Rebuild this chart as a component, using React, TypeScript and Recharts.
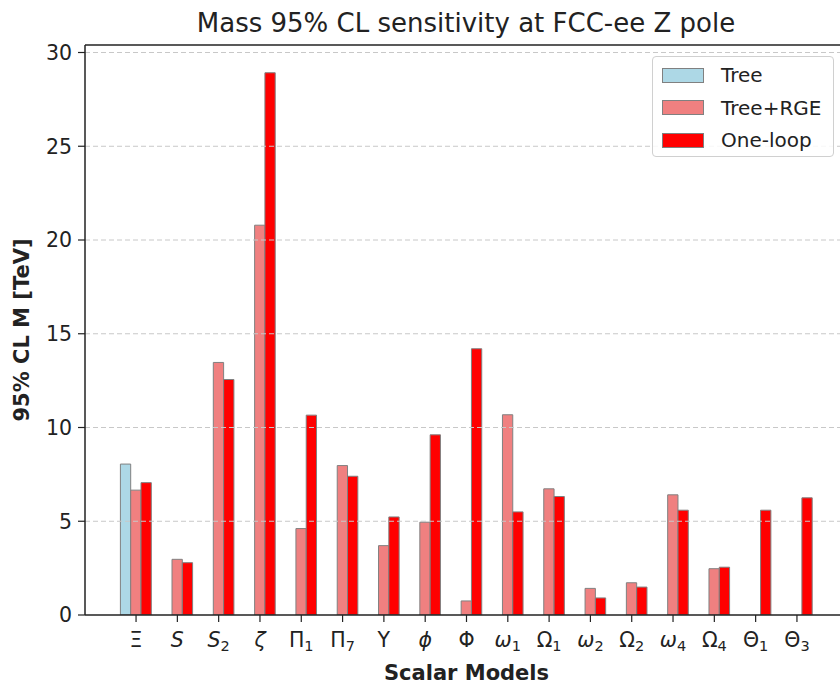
import React from 'react';
import { BarChart, Bar, XAxis, YAxis, ReferenceLine, Legend, Label } from 'recharts';

const models = ['Ξ', 'S', 'S_2', 'ζ', 'Π_1', 'Π_7', 'Υ', 'ϕ', 'Φ', 'ω_1', 'Ω_1', 'ω_2', 'Ω_2', 'ω_4', 'Ω_4', 'Θ_1', 'Θ_3'];
const seriesNames = ['Tree', 'Tree+RGE', 'One-loop'];
const tree = [8.05, 0, 0, 0, 0, 0, 0, 0, 0, 0, 0, 0, 0, 0, 0, 0, 0];
const treeRge = [6.66, 2.97, 13.47, 20.79, 4.61, 7.97, 3.7, 4.95, 0.75, 10.68, 6.73, 1.42, 1.72, 6.41, 2.47, 0, 0];
const oneLoop = [7.06, 2.79, 12.56, 28.92, 10.66, 7.4, 5.23, 9.61, 14.2, 5.5, 6.32, 0.91, 1.49, 5.59, 2.55, 5.59, 6.25];
const yTicks = [0, 5, 10, 15, 20, 25, 30];
const yMax = 30.4;

const data = models.map((m, i) => ({ model: m, tree: tree[i], treeRge: treeRge[i], oneLoop: oneLoop[i] }));

const FONT = '"DejaVu Sans", sans-serif';
const EDGE = '#808080';

// uppercase greek is upright in mathtext, latin + lowercase greek italic
const isUpright = (ch: string) => {
  const c = ch.charCodeAt(0);
  return c >= 0x391 && c <= 0x3a9;
};

const ModelTick = (props: any) => {
  const { x, y, payload } = props;
  const [sym, sub] = String(payload.value).split('_');
  return (
    <text x={x} y={y + 24.5} textAnchor="middle" fontFamily={FONT} fontSize={20.5} fill="#222">
      <tspan fontStyle={isUpright(sym) ? 'normal' : 'italic'}>{sym}</tspan>
      {sub && (
        <tspan fontSize={14.5} dy={4}>{sub}</tspan>
      )}
    </text>
  );
};

const LegendBox = ({ payload }: any) => {
  const items = [...(payload || [])].sort(
    (a: any, b: any) => seriesNames.indexOf(a.value) - seriesNames.indexOf(b.value)
  );
  return (
    <div
      style={{
        width: 182,
        height: 101,
        boxSizing: 'border-box',
        border: '1px solid #d0d0d0',
        borderRadius: 4,
        background: 'rgba(255,255,255,0.85)',
        paddingTop: 2,
        fontFamily: FONT,
        fontSize: 20,
        color: '#222',
      }}
    >
      {items.map((p: any) => (
        <div key={p.value} style={{ display: 'flex', alignItems: 'center', height: 32.5 }}>
          <span
            style={{
              display: 'inline-block',
              width: 42,
              height: 15,
              marginLeft: 9,
              marginRight: 17,
              boxSizing: 'border-box',
              background: p.color,
              border: `1px solid ${EDGE}`,
            }}
          />
          <span>{p.value}</span>
        </div>
      ))}
    </div>
  );
};

export default function App() {
  return (
    <div style={{ position: 'absolute', left: 0, top: 0, width: 840, height: 684, overflow: 'hidden', background: '#fff' }}>
      <div
        style={{
          position: 'absolute',
          left: 0,
          width: 932,
          top: 8,
          textAlign: 'center',
          fontFamily: FONT,
          fontSize: 26,
          color: '#222',
          lineHeight: '30px',
        }}
      >
        Mass 95% CL sensitivity at FCC-ee Z pole
      </div>
      <div style={{ position: 'absolute', left: 0, top: 0 }}>
        <BarChart
          width={870}
          height={684}
          data={data}
          margin={{ top: 45, right: 22, bottom: 0, left: 0 }}
          barGap={0}
          barSize={10.3}
        >
          <XAxis
            dataKey="model"
            type="category"
            height={69}
            padding={{ left: 30.4, right: 30.4 }}
            tick={<ModelTick />}
            tickSize={7}
            tickMargin={0}
            tickLine={{ stroke: '#222', strokeWidth: 1.2 }}
            axisLine={{ stroke: '#222', strokeWidth: 1.5 }}
            interval={0}
          >
            <Label
              content={({ viewBox }: any) => (
                <text
                  x={viewBox.x + viewBox.width / 2}
                  y={viewBox.y + 65}
                  textAnchor="middle"
                  fontFamily={FONT}
                  fontSize={21}
                  fontWeight="bold"
                  fill="#222"
                >
                  Scalar Models
                </text>
              )}
            />
          </XAxis>
          <YAxis
            type="number"
            domain={[0, yMax]}
            ticks={yTicks}
            width={85}
            tickSize={7}
            tickMargin={6}
            tick={{ fontFamily: FONT, fontSize: 20.5, fill: '#222' }}
            tickLine={{ stroke: '#222', strokeWidth: 1.2 }}
            axisLine={{ stroke: '#222', strokeWidth: 1.5 }}
            allowDataOverflow
          >
            <Label
              content={({ viewBox }: any) => {
                const cx = viewBox.x + 21.5;
                const cy = viewBox.y + viewBox.height / 2;
                return (
                  <text
                    x={cx}
                    y={cy}
                    transform={`rotate(-90, ${cx}, ${cy})`}
                    textAnchor="middle"
                    dominantBaseline="central"
                    fontFamily={FONT}
                    fontSize={21}
                    fontWeight="bold"
                    fill="#222"
                  >
                    95% CL M [TeV]
                  </text>
                );
              }}
            />
          </YAxis>
          <Bar dataKey="tree" name="Tree" fill="#add8e6" stroke={EDGE} strokeWidth={1} isAnimationActive={false} />
          <Bar dataKey="treeRge" name="Tree+RGE" fill="#f08080" stroke={EDGE} strokeWidth={1} isAnimationActive={false} />
          <Bar dataKey="oneLoop" name="One-loop" fill="#ff0000" stroke={EDGE} strokeWidth={1} isAnimationActive={false} />
          {yTicks.slice(1).map((t) => (
            <ReferenceLine key={t} y={t} stroke="#c8c8c8" strokeWidth={1} strokeDasharray="5 3" />
          ))}
          <ReferenceLine y={yMax} stroke="#222" strokeWidth={1.5} />
          <Legend
            layout="vertical"
            align="center"
            verticalAlign="middle"
            content={<LegendBox />}
            wrapperStyle={{ position: 'absolute', left: 652, top: 56, width: 182, height: 101 }}
          />
        </BarChart>
      </div>
    </div>
  );
}
